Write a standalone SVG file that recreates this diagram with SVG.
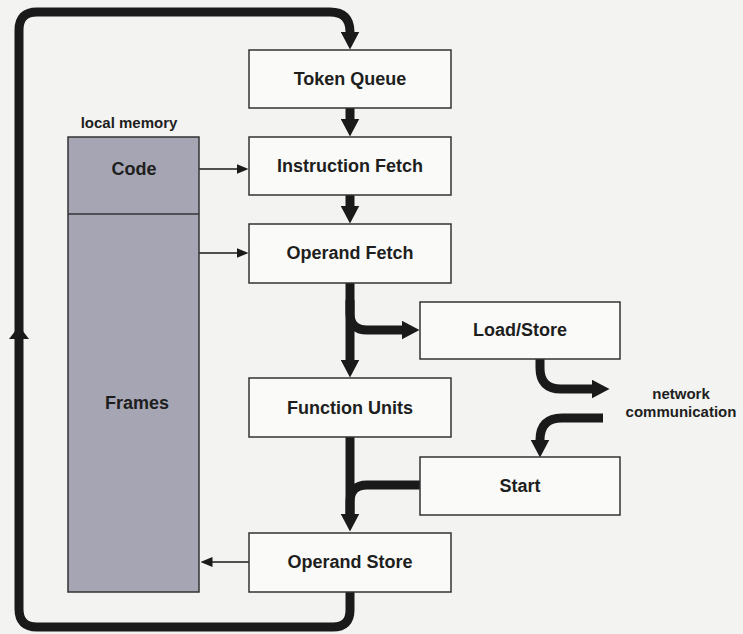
<svg xmlns="http://www.w3.org/2000/svg" width="743" height="634" viewBox="0 0 743 634">
<style>
.bg{fill:#f3f3f1}
.box{fill:#fafaf8;stroke:#333;stroke-width:1.5}
.mem{fill:#a6a5b4;stroke:#333;stroke-width:1.5}
.lbl{font-family:"Liberation Sans",Arial,sans-serif;font-weight:bold;font-size:18px;fill:#1e1e1e;text-anchor:middle}
.small{font-family:"Liberation Sans",Arial,sans-serif;font-weight:bold;font-size:15px;fill:#1e1e1e;text-anchor:middle}
.thick{fill:none;stroke:#1a1a1a;stroke-width:9}
.thin{fill:none;stroke:#1a1a1a;stroke-width:1.5}
</style>
<defs>
<marker id="big" markerUnits="userSpaceOnUse" viewBox="0 0 18 19" markerWidth="18" markerHeight="19" refX="0.5" refY="9.5" orient="auto">
<path d="M0,0 L18,9.5 L0,19 z" fill="#1a1a1a"/>
</marker>
<marker id="sm" markerUnits="userSpaceOnUse" viewBox="0 0 12 10" markerWidth="12" markerHeight="10" refX="0.5" refY="5" orient="auto">
<path d="M0,0 L12,5 L0,10 z" fill="#1a1a1a"/>
</marker>
</defs>
<rect class="bg" x="0" y="0" width="743" height="634"/>

<g id="connectors">
<path class="thick" d="M350,592 V610 Q350,627 333,627 H37 Q19,627 19,609 V30 Q19,12 37,12 H330 Q350,12 350,32" marker-end="url(#big)"/>
<polygon points="19,326 9,339 29,339" fill="#1a1a1a"/>
<path class="thick" d="M350,108 V119" marker-end="url(#big)"/>
<path class="thick" d="M350,195 V206" marker-end="url(#big)"/>
<path class="thick" d="M350,283 V360" marker-end="url(#big)"/>
<path class="thick" d="M350,300 V313 Q350,330 367,330 H402" marker-end="url(#big)"/>
<path class="thick" d="M350,437 V514" marker-end="url(#big)"/>
<path class="thick" d="M420,485 H367 Q350,485 350,502 V514"/>
<path class="thick" d="M540,359 V368 Q540,389 561,389 H592" marker-end="url(#big)"/>
<path class="thick" d="M603,418 H562 Q540,418 540,440" marker-end="url(#big)"/>
<path class="thin" d="M199,169 H237" marker-end="url(#sm)"/>
<path class="thin" d="M199,253 H237" marker-end="url(#sm)"/>
<path class="thin" d="M249,562 H212" marker-end="url(#sm)"/>
</g>

<g id="local-memory">
<text class="small" x="129" y="128">local memory</text>
<rect class="mem" x="68" y="137" width="131" height="455"/>
<line x1="68" y1="214" x2="199" y2="214" stroke="#333" stroke-width="1.5"/>
</g>
<g id="code"><text class="lbl" x="134" y="175">Code</text></g>
<g id="frames"><text class="lbl" x="137" y="409">Frames</text></g>

<g id="token-queue"><rect class="box" x="249" y="50" width="202" height="58"/><text class="lbl" x="350" y="85">Token Queue</text></g>
<g id="instruction-fetch"><rect class="box" x="249" y="137" width="202" height="58"/><text class="lbl" x="350" y="172">Instruction Fetch</text></g>
<g id="operand-fetch"><rect class="box" x="249" y="224" width="202" height="59"/><text class="lbl" x="350" y="259">Operand Fetch</text></g>
<g id="load-store"><rect class="box" x="420" y="302" width="200" height="57"/><text class="lbl" x="520" y="336">Load/Store</text></g>
<g id="function-units"><rect class="box" x="249" y="378" width="202" height="59"/><text class="lbl" x="350" y="414">Function Units</text></g>
<g id="start"><rect class="box" x="420" y="457" width="200" height="58"/><text class="lbl" x="520" y="492">Start</text></g>
<g id="operand-store"><rect class="box" x="249" y="533" width="202" height="59"/><text class="lbl" x="350" y="568">Operand Store</text></g>
<g id="network"><text class="small" x="681" y="399">network</text><text class="small" x="681" y="417">communication</text></g>
</svg>
